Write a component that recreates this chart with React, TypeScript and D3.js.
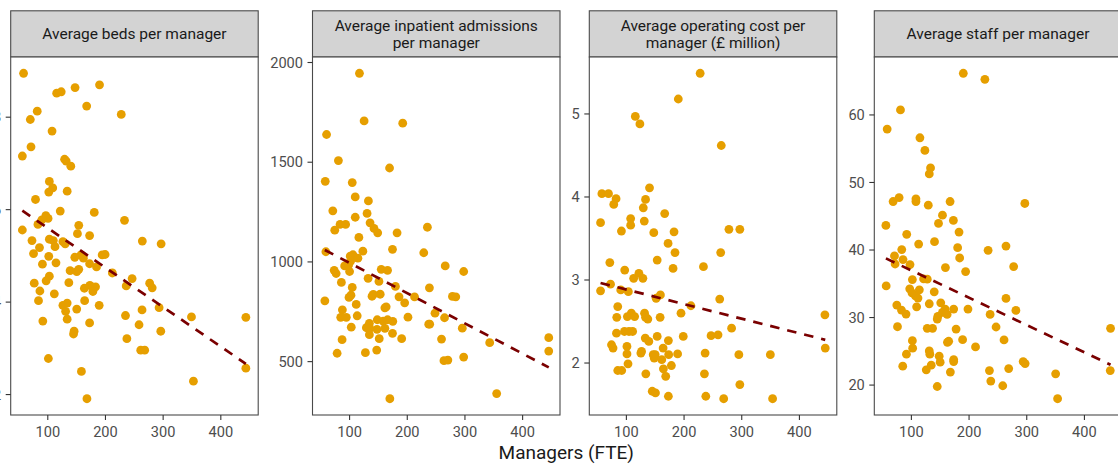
import React from "react";
import * as d3 from "d3";

type Pt = [number, number];

const panelTitles: string[][] = [
  ["Average beds per manager"],
  ["Average inpatient admissions", "per manager"],
  ["Average operating cost per", "manager (£ million)"],
  ["Average staff per manager"],
];

const xTicks = [100, 200, 300, 400];
const bedsTicks = [2, 4, 6, 8];
const admissionsTicks = [500, 1000, 1500, 2000];
const costTicks = [2, 3, 4, 5];
const staffTicks = [20, 30, 40, 50, 60];

const bedsPoints: Pt[] = [
  [58, 8.95], [115.4, 8.52], [123.3, 8.55], [147.3, 8.64], [189.7, 8.7], [167.4, 8.24], [227.4, 8.06],
  [81.7, 8.13], [69.7, 7.95], [107.4, 7.7], [70.9, 7.36], [55.9, 7.16], [129.1, 7.09], [131.9, 7.05],
  [139.9, 6.94], [102.7, 6.61], [108.6, 6.47], [101.7, 6.38], [133.6, 6.4], [78.7, 6.22], [121.6, 5.97],
  [180.6, 5.94], [96.6, 5.87], [100.5, 5.81], [89.7, 5.78], [82.9, 5.68], [233, 5.77], [153.7, 5.66],
  [55.9, 5.56], [72.6, 5.33], [102.7, 5.36], [109.6, 5.33], [126.2, 5.31], [130.2, 5.26], [151.4, 5.48],
  [172.5, 5.44], [263.9, 5.32], [296.5, 5.26], [112.5, 5.2], [85.6, 5.18], [75.3, 5.05], [101.7, 4.99],
  [157.6, 5.02], [161.7, 4.95], [146.8, 4.97], [194.3, 5.02], [199.4, 5.03], [90.7, 4.82], [114.2, 4.85],
  [172.5, 4.83], [184.5, 4.76], [138.7, 4.68], [150.2, 4.66], [153.7, 4.71], [211.9, 4.63], [102.7, 4.56],
  [97.1, 4.46], [246.2, 4.51], [76.5, 4.41], [136.5, 4.42], [236, 4.35], [276.6, 4.41], [281, 4.31],
  [173, 4.36], [182.8, 4.33], [163.4, 4.3], [178.2, 4.23], [86.3, 4.24], [111.3, 4.18], [83.9, 4.03],
  [163.9, 4.03], [133.6, 3.98], [126.2, 3.93], [130.9, 3.8], [189.1, 3.93], [150.2, 3.85], [263.4, 3.83],
  [293, 3.88], [133.6, 3.63], [91.4, 3.59], [172.5, 3.55], [234.7, 3.71], [349.1, 3.68], [443.4, 3.67],
  [258.2, 3.51], [145.6, 3.37], [144.6, 3.31], [295.9, 3.37], [237.1, 3.21], [261.1, 2.96], [268, 2.96],
  [101, 2.78], [158.3, 2.5], [352.5, 2.29], [443.4, 2.57], [167.9, 1.91],
];

const admissionsPoints: Pt[] = [
  [117.1, 1946], [125.2, 1707], [192.1, 1696], [60.1, 1639], [80.6, 1508], [169.3, 1471], [57.8, 1404],
  [104.6, 1398], [109.8, 1326], [132.6, 1306], [70.9, 1256], [130.3, 1243], [109.8, 1224], [83.5, 1188],
  [93.1, 1188], [135.5, 1196], [74.3, 1159], [142.3, 1168], [148.7, 1146], [182.3, 1146], [234.9, 1174],
  [116.1, 1123], [123, 1054], [174.4, 1063], [228.6, 1046], [58.9, 1051], [101.2, 1029], [105.8, 1036],
  [114.4, 1019], [91.4, 980], [98.3, 985], [101.7, 1004], [73.3, 958], [76.7, 942], [100, 952], [85.8, 897],
  [132.1, 918], [154.9, 963], [165.8, 958], [150.9, 902], [179.5, 877], [265.8, 980], [297.8, 952],
  [104.6, 872], [138.9, 828], [141.1, 837], [153.1, 838], [185.7, 825], [195.5, 795], [212.6, 825],
  [238.4, 870], [278.3, 827], [284.1, 825], [99, 822], [102.4, 833], [111.5, 787], [161.2, 770],
  [163.4, 775], [87.5, 760], [113.2, 730], [84.6, 722], [94.3, 722], [148, 710], [158.3, 703], [165.8, 710],
  [174.9, 702], [201.2, 723], [248.1, 743], [264.6, 720], [102.9, 673], [129.1, 670], [134.3, 692],
  [135, 667], [147.5, 662], [161.2, 667], [174.4, 642], [134.3, 635], [237.2, 688], [238.9, 688],
  [295.4, 668], [87, 610], [151.4, 615], [190.3, 615], [259.4, 613], [78.4, 542], [127.4, 545], [147, 558],
  [342.9, 595], [445.3, 620], [445.3, 553], [263.6, 505], [270.4, 508], [297.8, 523], [57.1, 805],
  [355, 340], [169.8, 314],
];

const costPoints: Pt[] = [
  [227.9, 5.49], [190, 5.18], [115.5, 4.97], [123.4, 4.88], [264.5, 4.62], [140.1, 4.11], [57.5, 4.04],
  [69, 4.04], [82.1, 3.98], [78.1, 3.91], [133.2, 3.97], [129.3, 3.87], [166.4, 3.8], [107.4, 3.74],
  [107.4, 3.66], [131, 3.71], [55.2, 3.69], [91.4, 3.59], [147.5, 3.57], [182.6, 3.58], [277.8, 3.61],
  [296.7, 3.61], [172.3, 3.44], [184.3, 3.33], [263.5, 3.33], [153.4, 3.24], [71.3, 3.21], [180.9, 3.14],
  [233.6, 3.16], [97.1, 3.12], [112.6, 3.02], [121.7, 3.08], [128.6, 3.02], [72.5, 2.95], [55.2, 2.87],
  [90.2, 2.88], [103.4, 2.86], [159, 2.82], [151.6, 2.78], [261.8, 2.77], [211.9, 2.69], [85, 2.68],
  [131.5, 2.6], [137.2, 2.53], [133.2, 2.55], [108.6, 2.6], [101.7, 2.56], [114.3, 2.56], [83.3, 2.55],
  [158.5, 2.55], [194.7, 2.6], [282.4, 2.42], [82.8, 2.36], [96.6, 2.38], [104.5, 2.38], [110.8, 2.38],
  [132.7, 2.3], [138.9, 2.26], [153.4, 2.32], [172.8, 2.27], [198.6, 2.32], [246.8, 2.33], [258.9, 2.34],
  [74.2, 2.22], [76.9, 2.18], [101, 2.2], [126.3, 2.14], [125.1, 2.12], [163.7, 2.18], [101, 2.11],
  [146.5, 2.1], [148.2, 2.06], [149.9, 2.1], [173.3, 2.1], [188.8, 2.11], [236.5, 2.12], [295, 2.1],
  [349.6, 2.1], [444.2, 2.58], [444.8, 2.18], [161.3, 2.04], [178, 1.97], [164.2, 1.93], [102.8, 1.99],
  [85, 1.91], [91.9, 1.91], [133.7, 1.87], [168.2, 1.84], [235.3, 1.87], [296.7, 1.74], [144.8, 1.66],
  [150.4, 1.64], [172.8, 1.6], [237.7, 1.6], [268.7, 1.57], [353.5, 1.57],
];

const staffPoints: Pt[] = [
  [190, 66.17], [227.4, 65.28], [81.1, 60.75], [58, 57.91], [114.8, 56.62], [123.4, 54.75], [133.2, 52.15],
  [131, 51.27], [68.3, 47.18], [78.7, 47.77], [107.9, 47.58], [107.9, 47.18], [129.3, 46.64], [167.1, 47.18],
  [296.7, 46.89], [153.9, 45.16], [147, 43.94], [172.8, 44.38], [55.8, 43.64], [91.9, 42.32], [182.6, 42.65],
  [112.6, 40.88], [140.1, 41.24], [83.3, 40.06], [85.5, 38.58], [70.7, 39.12], [71.8, 37.93], [97.6, 37.85],
  [180.2, 40.35], [183.7, 38.82], [233, 39.96], [264, 40.59], [159, 37.4], [194, 36.81], [277.3, 37.55],
  [56.3, 34.69], [101.7, 35.63], [121.2, 35.72], [127.5, 35.68], [97.1, 34.25], [101, 33.66], [106.9, 33.22],
  [111.4, 32.88], [113.8, 34.1], [139.6, 33.81], [74.7, 31.84], [82.8, 31.11], [90.7, 30.52], [109.1, 31.59],
  [131, 32.04], [150.9, 32.18], [158.5, 31.25], [153.9, 30.77], [162, 30.47], [145.8, 30.18], [173.3, 31.25],
  [144.8, 29.78], [198.1, 31.25], [236.5, 30.47], [264, 32.83], [281.2, 31.06], [75.9, 28.64], [127.5, 28.41],
  [136.7, 28.41], [177.5, 28.3], [246.8, 28.6], [445.3, 28.41], [162.5, 26.34], [164.7, 26.49], [188.8, 26.73],
  [211.2, 25.65], [260.6, 26.68], [101.7, 26.58], [102.2, 25.46], [91.4, 24.57], [131, 25.06], [132, 24.57],
  [148.2, 24.28], [149.9, 23.39], [173.3, 23.78], [173.3, 23.48], [85, 22.8], [134.4, 22.95], [125.8, 22.26],
  [167.6, 21.92], [235.3, 22.15], [237.7, 20.59], [268.7, 22.45], [258.4, 19.9], [144.8, 19.79],
  [293.8, 23.48], [297.2, 23.19], [350.1, 21.67], [353.5, 17.98], [444.8, 22.15],
];

const panelData: Pt[][] = [bedsPoints, admissionsPoints, costPoints, staffPoints];
const panelTicks: number[][] = [bedsTicks, admissionsTicks, costTicks, staffTicks];

// layout
const W = 1118;
const H = 465;
const panelLefts = [10.7, 312.5, 589.3, 874.3];
const panelW = 247.5;
const stripTop = 10.8;
const stripBottom = 57;
const plotBottom = 415;
const FONT = "Roboto, 'Noto Sans', sans-serif";
const BORDER = "#4a4a4a";

function expand(ext: [number, number]): [number, number] {
  const r = ext[1] - ext[0];
  return [ext[0] - r * 0.05, ext[1] + r * 0.05];
}

function regression(pts: Pt[]) {
  const mx = d3.mean(pts, (p) => p[0])!;
  const my = d3.mean(pts, (p) => p[1])!;
  let sxy = 0, sxx = 0;
  for (const [x, y] of pts) {
    sxy += (x - mx) * (y - my);
    sxx += (x - mx) * (x - mx);
  }
  const b = sxy / sxx;
  const a = my - b * mx;
  return (x: number) => a + b * x;
}

export default function App() {
  const allX = panelData.flat().map((p) => p[0]);
  const xDomain = expand(d3.extent(allX) as [number, number]);

  return (
    <svg
      width={W}
      height={H}
      style={{ position: "absolute", left: 0, top: 0, background: "#fff" }}
      fontFamily={FONT}
    >
      <rect x={0} y={0} width={W} height={H} fill="#fff" />
      {panelData.map((pts, i) => {
        const left = panelLefts[i];
        const x = d3.scaleLinear().domain(xDomain).range([left, left + panelW]);
        const yDomain = expand(d3.extent(pts, (p) => p[1]) as [number, number]);
        const y = d3.scaleLinear().domain(yDomain).range([plotBottom, stripBottom]);
        const fit = regression(pts);
        const xr = d3.extent(pts, (p) => p[0]) as [number, number];
        const lineGen = d3
          .line<number>()
          .x((v) => x(v))
          .y((v) => y(fit(v)));
        const title = panelTitles[i];
        const stripMid = (stripTop + stripBottom) / 2;
        return (
          <g key={i}>
            <rect
              x={left}
              y={stripTop}
              width={panelW}
              height={stripBottom - stripTop}
              fill="#d3d3d3"
              stroke={BORDER}
              strokeWidth={1.1}
            />
            {title.map((t, j) => (
              <text
                key={j}
                x={left + panelW / 2}
                y={stripMid + (j - (title.length - 1) / 2) * 17.5}
                dy="0.35em"
                textAnchor="middle"
                fontSize={15.5}
                fill="#1a1a1a"
              >
                {t}
              </text>
            ))}
            <rect x={left} y={stripBottom} width={panelW} height={plotBottom - stripBottom} fill="#fff" />
            {pts.map((p, k) => (
              <circle key={k} cx={x(p[0])} cy={y(p[1])} r={4.4} fill="#E69F00" />
            ))}
            <path
              d={lineGen([xr[0], xr[1]]) || ""}
              fill="none"
              stroke="#7a0000"
              strokeWidth={2.7}
              strokeDasharray="9.5 8"
            />
            <rect
              x={left}
              y={stripBottom}
              width={panelW}
              height={plotBottom - stripBottom}
              fill="none"
              stroke={BORDER}
              strokeWidth={1.1}
            />
            {panelTicks[i].map((t) => (
              <g key={t}>
                <line x1={left - 5} x2={left} y1={y(t)} y2={y(t)} stroke="#333" strokeWidth={1.1} />
                <text
                  x={left - 9.5}
                  y={y(t)}
                  dy="0.35em"
                  textAnchor="end"
                  fontSize={14.6}
                  fill="#4d4d4d"
                >
                  {t}
                </text>
              </g>
            ))}
            {xTicks.map((t) => (
              <g key={t}>
                <line x1={x(t)} x2={x(t)} y1={plotBottom} y2={plotBottom + 5} stroke="#333" strokeWidth={1.1} />
                <text
                  x={x(t)}
                  y={plotBottom + 17}
                  dy="0.35em"
                  textAnchor="middle"
                  fontSize={14.6}
                  fill="#4d4d4d"
                >
                  {t}
                </text>
              </g>
            ))}
          </g>
        );
      })}
      <text
        x={(panelLefts[0] + panelLefts[3] + panelW) / 2}
        y={452}
        dy="0.35em"
        textAnchor="middle"
        fontSize={19}
        fill="#1a1a1a"
      >
        Managers (FTE)
      </text>
    </svg>
  );
}
